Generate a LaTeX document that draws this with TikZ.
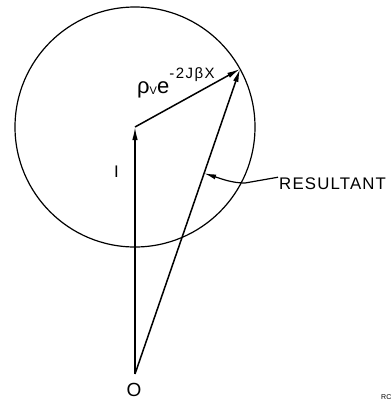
\documentclass[tikz,border=0pt]{standalone}
\usepackage{fontspec}
\setmainfont{Liberation Sans}
\usetikzlibrary{arrows.meta,calc}
\tikzset{
  vec/.style={line width=1.5pt,-{Latex[length=13pt,width=5.5pt]}},
  thinvec/.style={line width=1.2pt,-{Latex[length=12pt,width=5pt]}},
  lbl/.style={inner sep=0pt,anchor=base west},
}
\begin{document}
\begin{tikzpicture}[x=1pt,y=-1pt]
\useasboundingbox (0,0) rectangle (391,400);
\coordinate (O) at (135,374);
\coordinate (A) at (135,127);
\coordinate (P) at (240,69);
\draw[line width=1.2pt] (A) circle[radius=120];
\draw[vec] (O) -- (A);
\draw[vec] (A) -- (P);
\draw[vec] (O) -- (P);
\coordinate (R) at ($(O)!0.658!(P)$);
\node[lbl] (res) at (279,189) {\fontsize{16.8}{16.8}\selectfont\addfontfeature{LetterSpace=7}RESULTANT};
\draw[thinvec] (res.west) ++(-1,-6) -- (245,183) .. controls (232,183) and (222,179) .. (R);
\node[lbl] (one) at (114,177) {\fontsize{16.8}{16.8}\selectfont I};
\node[inner sep=0pt] (olbl) at (134,390) {\fontsize{19}{19}\selectfont O};
\node[lbl] (rho) at (137,93) {\fontsize{22}{22}\selectfont ρ\raisebox{-1pt}{\fontsize{11}{11}\selectfont V}e\raisebox{15pt}{\fontsize{15}{15}\selectfont\addfontfeature{LetterSpace=10}-2JβX}};
\node[lbl] (rc) at (381,399) {\fontsize{7}{7}\selectfont RC};
\end{tikzpicture}
\end{document}
